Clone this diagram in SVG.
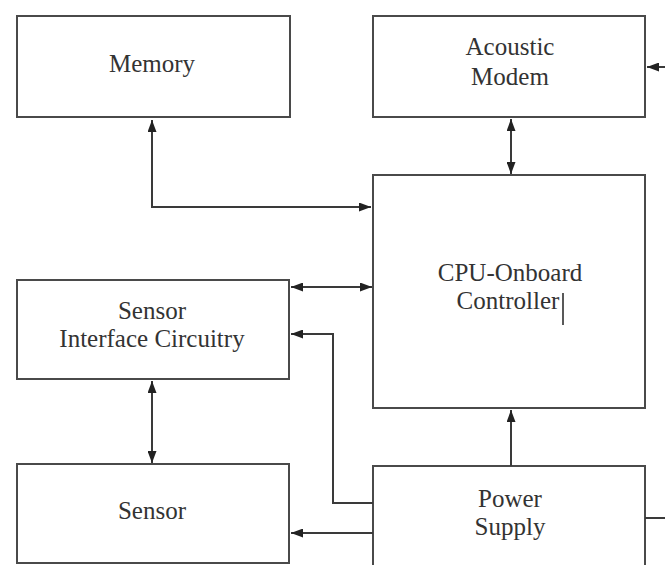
<svg xmlns="http://www.w3.org/2000/svg" width="665" height="565" viewBox="0 0 665 565">
<style>
.box{fill:#fff;stroke:#4a4a4a;stroke-width:2}
.lbl{font-size:25px;fill:#333;text-anchor:middle}
.con{fill:none;stroke:#3a3a3a;stroke-width:2}
</style>
<defs>
<marker id="ah" viewBox="0 0 12 9" refX="12" refY="4.5" markerWidth="12" markerHeight="9" markerUnits="userSpaceOnUse" orient="auto-start-reverse">
<path d="M0,0 L12,4.5 L0,9 Z" fill="#222"/>
</marker>
</defs>
<rect width="665" height="565" fill="#fff"/>
<g font-family="'Liberation Serif', 'Times New Roman', 'DejaVu Serif', serif">
<g id="memory"><rect class="box" x="17" y="16" width="273" height="101"/><text class="lbl" x="152" y="72">Memory</text></g>
<g id="acoustic-modem"><rect class="box" x="373" y="16" width="272" height="101"/><text class="lbl" x="510" y="55">Acoustic</text><text class="lbl" x="510" y="85">Modem</text></g>
<g id="cpu"><rect class="box" x="373" y="175" width="272" height="233"/><text class="lbl" x="510" y="281">CPU-Onboard</text><text class="lbl" x="508" y="309">Controller</text><line x1="563" y1="293" x2="563" y2="325" stroke="#222" stroke-width="1.5"/></g>
<g id="sensor-interface"><rect class="box" x="17" y="280" width="272" height="99"/><text class="lbl" x="152" y="319">Sensor</text><text class="lbl" x="152" y="347">Interface Circuitry</text></g>
<g id="sensor"><rect class="box" x="17" y="464" width="272" height="99"/><text class="lbl" x="152" y="519">Sensor</text></g>
<g id="power-supply"><rect class="box" x="373" y="466" width="272" height="110"/><text class="lbl" x="510" y="507">Power</text><text class="lbl" x="510" y="535">Supply</text></g>
</g>
<g id="connectors">
<path class="con" d="M152,120 V207 H371" marker-start="url(#ah)" marker-end="url(#ah)"/>
<path class="con" d="M511,119 V174" marker-start="url(#ah)" marker-end="url(#ah)"/>
<path class="con" d="M665,67 H647" marker-end="url(#ah)"/>
<path class="con" d="M291,287 H372" marker-start="url(#ah)" marker-end="url(#ah)"/>
<path class="con" d="M373,503 H333 V334 H291" marker-end="url(#ah)"/>
<path class="con" d="M511,466 V410" marker-end="url(#ah)"/>
<path class="con" d="M373,533 H291" marker-end="url(#ah)"/>
<path class="con" d="M645,518 H665"/>
<path class="con" d="M152,381 V463" marker-start="url(#ah)" marker-end="url(#ah)"/>
</g>
</svg>
